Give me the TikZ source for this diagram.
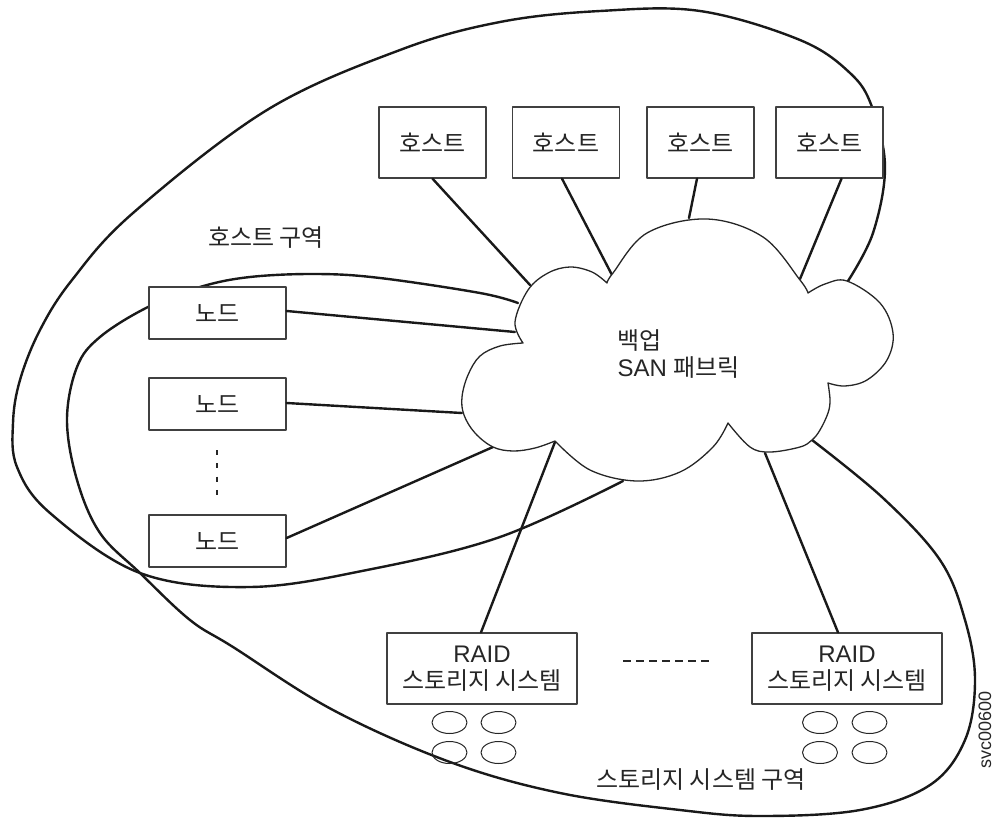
\documentclass[tikz,border=0pt]{standalone}
\usepackage{fontspec}
\setmainfont{Liberation Sans}
\newfontfamily\kr{Noto Sans CJK KR}
\begin{document}
\begin{tikzpicture}[x=1pt,y=-1pt,line join=round,line cap=round,
  every node/.style={font=\fontsize{24}{27}\selectfont, text=black!85},
  zone/.style={line width=2.4pt, black!90},
  conn/.style={line width=2.4pt, black!90},
  cloudline/.style={line width=1.3pt, black!85, fill=white},
  boxbase/.style={draw=black!75, line width=1.3pt, fill=white, inner sep=0pt},
  hostbox/.style={boxbase, minimum width=107pt, minimum height=71pt},
  nodebox/.style={boxbase, minimum width=137pt, minimum height=52pt},
  raidbox/.style={boxbase, minimum width=190pt, minimum height=71pt, align=center},
  disk/.style={line width=1pt, black!85},
  dotsline/.style={line width=2.2pt, black!85, line cap=butt}]
\useasboundingbox (0,0) rectangle (996,819);

% points on the cloud outline
\coordinate (ch1) at (530,285);
\coordinate (ch2) at (612,275);
\coordinate (ch3) at (689,218);
\coordinate (ch4) at (800,279);
\coordinate (cn1) at (515,332);
\coordinate (cn2) at (462,413);
\coordinate (cn3) at (493,447);
\coordinate (cr1) at (555,442);
\coordinate (cr2) at (765,453);
\coordinate (hzA) at (848,281);
\coordinate (hzB) at (623,481);
\coordinate (szA) at (518,303);
\coordinate (szB) at (812,440);

% host zone
\draw[zone] plot[smooth,tension=0.6] coordinates {(hzA) (873,233) (885,167) (872,107) (850,73) (800,40) (700,11) (600,11) (500,22) (400,50) (267,110) (133,213) (72,280) (40,330) (20,380) (13,423) (17,467) (50,513) (140,573) (250,587) (367,570) (500,537) (hzB)};
% storage zone
\draw[zone] plot[smooth,tension=0.6] coordinates {(szA) (480,293) (380,278) (317,274) (250,277) (200,287) (148,307) (100,337) (77,367) (67,420) (77,480) (100,533) (140,573) (190,620) (233,647) (333,710) (450,762) (560,793) (680,810) (760,816) (860,810) (930,785) (965,740) (975,680) (965,620) (940,560) (883,498) (szB)};

% hosts
\node[hostbox] (h1) at (432.5,142.5) {\kr 호스트};
\node[hostbox] (h2) at (566,142.5) {\kr 호스트};
\node[hostbox] (h3) at (700.5,142.5) {\kr 호스트};
\node[hostbox] (h4) at (829.5,142.5) {\kr 호스트};
% nodes
\node[nodebox] (n1) at (217.5,313) {\kr 노드};
\node[nodebox] (n2) at (217.5,404) {\kr 노드};
\node[nodebox] (n3) at (217.5,541) {\kr 노드};
% RAID
\node[raidbox] (r1) at (482,668.5) {RAID\\{\kr 스토리지 시스템}};
\node[raidbox] (r2) at (847,668.5) {RAID\\{\kr 스토리지 시스템}};

% connectors
\draw[conn] (h1.south) -- (ch1);
\draw[conn] ([xshift=-4pt]h2.south) -- (ch2);
\draw[conn] ([xshift=-3.5pt]h3.south) -- (ch3);
\draw[conn] ([xshift=12pt]h4.south) -- (ch4);
\draw[conn] ([yshift=2pt]n1.east) -- (cn1);
\draw[conn] ([yshift=1pt]n2.east) -- (cn2);
\draw[conn] ([yshift=3pt]n3.east) -- (cn3);
\draw[conn] ([xshift=-1pt]r1.north) -- (cr1);
\draw[conn] ([xshift=-9pt]r2.north) -- (cr2);

% cloud
\draw[cloudline]
  plot[smooth,tension=0.6] coordinates {(523,343) (515,322) (528,290) (548,273) (570,267) (592,272) (607,283)}
  -- plot[smooth,tension=0.6] coordinates {(607,283) (613,273) (647,233) (707,219) (763,237) (800,280) (808,293)}
  -- plot[smooth,tension=0.6] coordinates {(808,293) (825,284) (847,281) (880,303) (893,333) (887,360) (867,380) (845,386) (828,383)}
  -- plot[smooth,tension=0.6] coordinates {(828,383) (830,400) (828,413) (820,430) (812,440) (800,447) (770,452) (750,447) (728,423)}
  -- plot[smooth,tension=0.6] coordinates {(728,423) (713,447) (680,472) (637,481) (590,470) (555,441)}
  -- plot[smooth,tension=0.6] coordinates {(555,441) (535,448) (513,451) (493,447) (475,433) (464,415) (462,397) (468,375) (480,356) (500,346) (523,343)}
  -- cycle;
\node[anchor=west, align=left] (san) at (614,354) {{\kr 백업}\\SAN {\kr 패브릭}};

% labels
\node (hzlabel) at (266,238) {\kr 호스트 구역};
\node (szlabel) at (701,780) {\kr 스토리지 시스템 구역};
\node[rotate=90, font=\fontsize{18}{20}\selectfont] (fig) at (985,730) {svc00600};

% ellipsis marks
\coordinate (dv1) at (217,450);
\coordinate (dv2) at (217,495);
\draw[dotsline, dash pattern=on 5pt off 8.3pt] (dv1) -- (dv2);
\coordinate (dh1) at (623,661);
\coordinate (dh2) at (709,661);
\draw[dotsline, dash pattern=on 8pt off 5pt] (dh1) -- (dh2);

% disks
\foreach \cx/\cy in {449.5/722.5, 498.5/722.5, 449.5/752.5, 498.5/752.5, 820/722.5, 869.5/722.5, 820/752.5, 869.5/752.5}
  \draw[disk] (\cx,\cy) ellipse [x radius=17.5pt, y radius=11pt];
\end{tikzpicture}
\end{document}
